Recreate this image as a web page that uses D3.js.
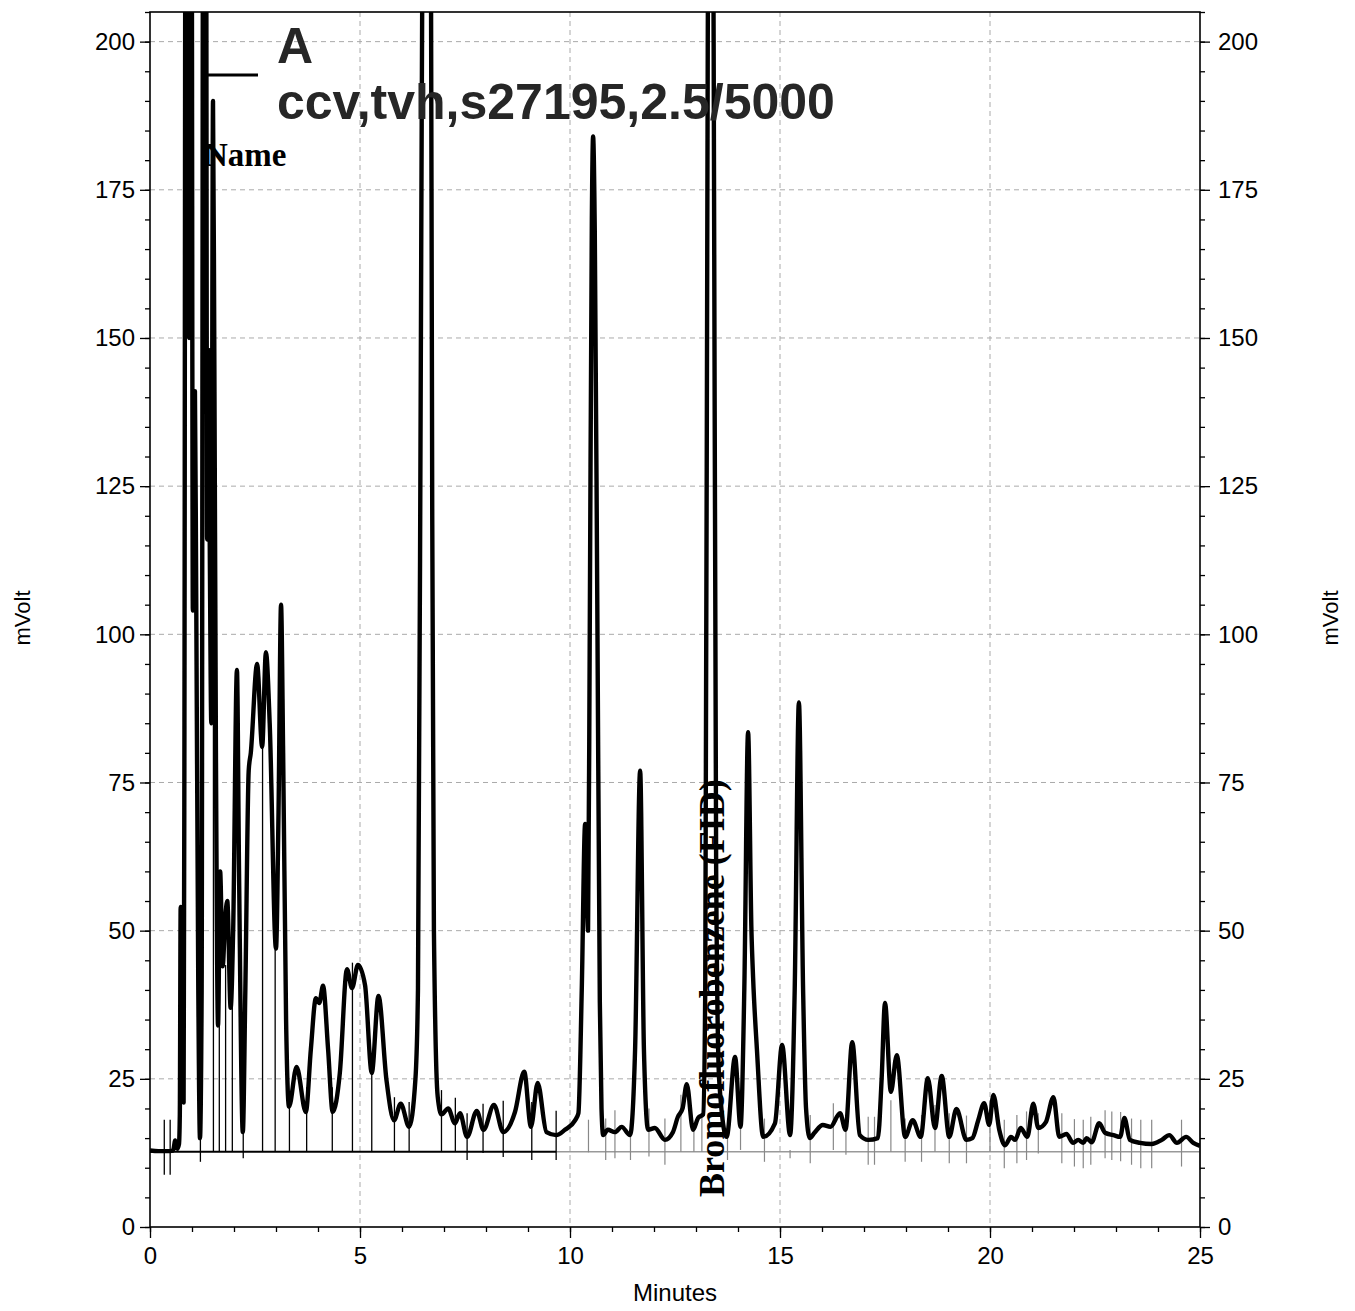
<!DOCTYPE html>
<html>
<head>
<meta charset="utf-8">
<script src="https://cdn.jsdelivr.net/npm/d3@7"></script>
<style>
  body { margin: 0; background: #fff; }
  svg text { font-family: "Liberation Sans", Arial, sans-serif; }
</style>
</head>
<body>
<div id="chart"></div>
<script>
// chromatogram: ccv,tvh,s27195 - signal (mVolt) vs time (minutes)

var times = [0.00, 0.20, 0.40, 0.55, 0.60, 0.65, 0.69, 0.71, 0.73, 0.75, 0.77, 0.80, 0.82, 0.85, 0.92, 0.93, 0.95, 0.99,
  1.02, 1.07, 1.10, 1.15, 1.19, 1.23, 1.27, 1.33, 1.36, 1.39, 1.42, 1.46, 1.50, 1.53, 1.57, 1.62, 1.67, 1.73, 1.79, 1.84,
  1.92, 1.98, 2.07, 2.12, 2.21, 2.27, 2.35, 2.40, 2.55, 2.67, 2.76, 2.85, 3.00, 3.06, 3.12, 3.17, 3.24, 3.31, 3.49, 3.71,
  3.83, 3.95, 4.03, 4.12, 4.24, 4.35, 4.52, 4.69, 4.81, 4.95, 5.12, 5.28, 5.44, 5.63, 5.81, 5.97, 6.17, 6.32, 6.38, 6.45,
  6.50, 6.60, 6.68, 6.72, 6.76, 6.85, 6.94, 7.10, 7.26, 7.38, 7.55, 7.78, 7.94, 8.19, 8.41, 8.69, 8.91, 9.07, 9.23, 9.44,
  9.67, 9.88, 10.12, 10.20, 10.28, 10.36, 10.43, 10.47, 10.52, 10.55, 10.59, 10.65, 10.71, 10.75, 10.79, 10.90, 11.07,
  11.23, 11.43, 11.55, 11.67, 11.76, 11.86, 12.02, 12.26, 12.45, 12.57, 12.68, 12.78, 12.93, 13.05, 13.17, 13.22, 13.28,
  13.35, 13.42, 13.48, 13.55, 13.73, 13.93, 14.06, 14.15, 14.24, 14.32, 14.36, 14.45, 14.60, 14.88, 15.05, 15.24, 15.35,
  15.45, 15.55, 15.62, 15.71, 15.82, 16.02, 16.20, 16.43, 16.56, 16.72, 16.90, 17.10, 17.33, 17.42, 17.50, 17.64, 17.78,
  17.98, 18.16, 18.35, 18.52, 18.69, 18.85, 19.03, 19.20, 19.44, 19.58, 19.72, 19.86, 19.98, 20.08, 20.22, 20.36, 20.50,
  20.60, 20.73, 20.89, 21.03, 21.15, 21.33, 21.51, 21.65, 21.82, 21.98, 22.10, 22.22, 22.30, 22.42, 22.60, 22.74, 22.94,
  23.10, 23.20, 23.33, 23.57, 23.85, 24.09, 24.27, 24.45, 24.67, 24.84, 25.00];

var mvolts = [12.9, 12.8, 12.8, 12.9, 14.6, 13.2, 14.0, 19.0, 54.0, 50, 22, 21, 84, 260, 260, 150, 260, 240,
  104, 141, 107, 40, 15, 40, 260, 260, 116, 148, 118, 85, 190, 150, 80, 34, 60, 44, 52, 55,
  37, 50, 94, 60, 16, 40, 77, 80, 95, 81, 97, 85, 47, 70, 105, 80, 35, 20.3, 27, 19.4,
  30, 38.6, 37.8, 40.7, 30, 19.4, 26, 43.5, 40.3, 44.2, 40.8, 26, 39, 24.8, 18, 20.8, 16.9, 25, 40, 150,
  240, 300, 240, 120, 50, 22, 19, 20, 17.5, 19.2, 15.2, 19.6, 16.4, 20.6, 16, 19.4, 26.2, 16.9, 24.3, 16,
  15.5, 16.4, 18, 19.2, 40, 68, 50, 100, 170, 184, 168, 105, 38, 20, 15.5, 16.4, 16,
  16.9, 15.5, 30, 77, 30, 16.4, 16.7, 14.7, 16, 18.6, 20, 24.1, 16.4, 18.4, 19, 40, 200,
  300, 200, 60, 25, 15.2, 28.7, 16.9, 40, 83.5, 50, 42, 30, 15.2, 17.5, 30.7, 15.5, 40,
  88.5, 40, 20, 15, 15.9, 17.2, 16.9, 19.2, 16.4, 31.2, 15.5, 14.7, 15, 25, 37.8, 22.8, 29,
  15.2, 18, 15.2, 25.1, 16.7, 25.5, 15.2, 19.9, 14.7, 15, 18, 20.9, 17.2, 22.3, 16.4, 13.8, 15.2,
  14.7, 16.7, 15.2, 20.8, 16.7, 17.7, 21.9, 15.2, 15.7, 14.2, 14.7, 14.2, 15, 14.3, 17.5, 15.9, 15.5,
  15.2, 18.4, 14.7, 14.2, 14, 14.7, 15.5, 14.2, 15.2, 14.2, 13.7];

// peak start/end markers (dark, integrated part)
var darkMarkTimes   = [0.34, 0.48, 1.20, 1.51, 1.65, 1.80, 1.96, 2.22, 2.68, 2.98, 3.32, 3.73, 4.34, 4.82, 5.28, 5.82, 6.17, 6.94, 7.27, 7.55, 7.93, 8.41, 9.09, 9.67];
var darkMarkTops    = [18.1, 18.1, 15.0, 150, 34.4, 44.2, 37.1, 15.9, 81, 46.8, 20.3, 23.6, 23.6, 44.6, 26, 21.9, 21.1, 23.1, 21.8, 19.2, 20.8, 21.3, 21.1, 19.6];
var darkMarkBottoms = [8.8, 8.8, 11.0, 12.8, 12.8, 12.8, 12.8, 11.6, 12.8, 12.8, 12.8, 12.8, 12.8, 12.8, 12.8, 12.8, 12.8, 12.8, 12.8, 11.3, 12.5, 11.8, 11.3, 11.3];

// peak markers after the baseline turns grey
var greyMarkTimes   = [10.44, 10.85, 11.07, 11.44, 11.88, 12.26, 12.64, 12.95, 13.14, 13.75, 14.06, 14.63, 15.24, 15.72, 16.27, 16.57, 17.10, 17.25, 17.64, 17.98, 18.37, 18.69, 19.03, 19.44, 20.00, 20.34, 20.64, 20.87, 21.15, 21.71, 22.01, 22.22, 22.40, 22.74, 22.90, 23.11, 23.37, 23.59, 23.85, 24.56, 25.00];
var greyMarkTops    = [18.1, 18.3, 19.7, 18.1, 20.0, 18.3, 22.3, 16.4, 18.9, 18.3, 18.6, 18.3, 13.0, 18.9, 20.9, 18.9, 18.6, 18.6, 21.4, 18.3, 18.9, 20.6, 19.2, 18.8, 21.4, 18.1, 18.9, 19.5, 19.2, 19.2, 18.2, 18.1, 18.6, 19.7, 19.5, 19.4, 18.3, 18.1, 18.1, 18.1, 21.4];
var greyMarkBottoms = [12.6, 11.3, 11.6, 11.3, 11.9, 10.5, 12.7, 12.7, 12.7, 11.3, 13.0, 11.0, 11.6, 10.75, 13.0, 12.2, 10.5, 10.5, 12.7, 11.0, 11.0, 12.7, 10.75, 10.75, 12.7, 9.9, 10.75, 11.3, 12.4, 10.75, 10.2, 9.9, 10.5, 11.6, 11.3, 11.1, 10.5, 9.9, 9.9, 10.2, 9.6];

var baselineLevel = 12.7;
var baselineSplit = 9.67;

var xTickValues = [0, 5, 10, 15, 20, 25];
var yTickValues = [0, 25, 50, 75, 100, 125, 150, 175, 200];

var peakName = "Bromofluorobenzene (FID)";
var titleLetter = "A";
var titleSample = "ccv,tvh,s27195,2.5/5000";

(function() {
  var W = 1355, H = 1311;
  var pLeft = 150, pRight = 1200, pTop = 12, pBottom = 1227;

  var svg = d3.select("#chart").append("svg")
    .attr("width", W)
    .attr("height", H);

  var x = d3.scaleLinear().domain([0, 25]).range([pLeft, pRight]);
  var y = d3.scaleLinear().domain([0, 205]).range([pBottom, pTop]);

  svg.append("clipPath").attr("id", "plotclip")
    .append("rect")
    .attr("x", pLeft).attr("y", pTop)
    .attr("width", pRight - pLeft).attr("height", pBottom - pTop);

  // grid
  svg.append("g").selectAll("line")
    .data(yTickValues.filter(function(d) { return d > 0; }))
    .enter().append("line")
    .attr("x1", pLeft).attr("x2", pRight)
    .attr("y1", function(d) { return y(d); })
    .attr("y2", function(d) { return y(d); })
    .attr("stroke", "#aaa")
    .attr("stroke-dasharray", "5,4");

  svg.append("g").selectAll("line")
    .data(xTickValues.filter(function(d) { return d > 0 && d < 25; }))
    .enter().append("line")
    .attr("y1", pTop).attr("y2", pBottom)
    .attr("x1", function(d) { return x(d); })
    .attr("x2", function(d) { return x(d); })
    .attr("stroke", "#aaa")
    .attr("stroke-dasharray", "5,4");

  // baseline
  svg.append("line")
    .attr("x1", x(baselineSplit)).attr("x2", x(25))
    .attr("y1", y(baselineLevel)).attr("y2", y(baselineLevel))
    .attr("stroke", "#999").attr("stroke-width", 1.5);
  svg.append("line")
    .attr("x1", x(0)).attr("x2", x(baselineSplit))
    .attr("y1", y(baselineLevel)).attr("y2", y(baselineLevel))
    .attr("stroke", "#000").attr("stroke-width", 1.8);

  // marker lines
  svg.append("g").selectAll("line")
    .data(greyMarkTimes)
    .enter().append("line")
    .attr("x1", function(d) { return x(d); })
    .attr("x2", function(d) { return x(d); })
    .attr("y1", function(d, i) { return y(greyMarkTops[i]); })
    .attr("y2", function(d, i) { return y(greyMarkBottoms[i]); })
    .attr("stroke", "#888").attr("stroke-width", 1.2);

  svg.append("g").attr("clip-path", "url(#plotclip)").selectAll("line")
    .data(darkMarkTimes)
    .enter().append("line")
    .attr("x1", function(d) { return x(d); })
    .attr("x2", function(d) { return x(d); })
    .attr("y1", function(d, i) { return y(darkMarkTops[i]); })
    .attr("y2", function(d, i) { return y(darkMarkBottoms[i]); })
    .attr("stroke", "#000").attr("stroke-width", 1.3);

  // signal
  var points = times.map(function(t, i) { return [t, mvolts[i]]; });
  var line = d3.line()
    .x(function(d) { return x(d[0]); })
    .y(function(d) { return y(d[1]); })
    .curve(d3.curveMonotoneX);

  svg.append("path")
    .datum(points)
    .attr("clip-path", "url(#plotclip)")
    .attr("d", line)
    .attr("fill", "none")
    .attr("stroke", "#000")
    .attr("stroke-width", 4.4)
    .attr("stroke-linejoin", "round");

  // axes
  var yLeftMinor = d3.axisLeft(y).tickValues(d3.range(0, 206, 5)).tickSize(5).tickFormat("");
  var yLeft = d3.axisLeft(y).tickValues(yTickValues).tickSize(10).tickPadding(5);
  var yRightMinor = d3.axisRight(y).tickValues(d3.range(0, 206, 5)).tickSize(5).tickFormat("");
  var yRight = d3.axisRight(y).tickValues(yTickValues).tickSize(10).tickPadding(8);
  var xMinor = d3.axisBottom(x).tickValues(d3.range(0, 26, 1)).tickSize(5).tickFormat("");
  var xMajor = d3.axisBottom(x).tickValues(xTickValues).tickSize(11).tickPadding(9);

  function styleAxis(g) {
    g.select(".domain").remove();
    g.selectAll("line").attr("stroke", "#000").attr("stroke-width", 1.3);
    g.selectAll("text").attr("font-size", 24).attr("fill", "#000")
      .style("font-family", "'Liberation Sans', Arial, sans-serif");
  }

  svg.append("g").attr("transform", "translate(" + pLeft + ",0)").call(yLeftMinor).call(styleAxis);
  svg.append("g").attr("transform", "translate(" + pLeft + ",0)").call(yLeft).call(styleAxis);
  svg.append("g").attr("transform", "translate(" + pRight + ",0)").call(yRightMinor).call(styleAxis);
  svg.append("g").attr("transform", "translate(" + pRight + ",0)").call(yRight).call(styleAxis);
  svg.append("g").attr("transform", "translate(0," + pBottom + ")").call(xMinor).call(styleAxis);
  svg.append("g").attr("transform", "translate(0," + pBottom + ")").call(xMajor).call(styleAxis);

  // frame
  svg.append("rect")
    .attr("x", pLeft).attr("y", pTop)
    .attr("width", pRight - pLeft).attr("height", pBottom - pTop)
    .attr("fill", "none").attr("stroke", "#000").attr("stroke-width", 1.6);

  // axis titles
  svg.append("text")
    .attr("transform", "translate(30,618) rotate(-90)")
    .attr("text-anchor", "middle")
    .attr("font-size", 22)
    .text("mVolt");
  svg.append("text")
    .attr("transform", "translate(1338,618) rotate(-90)")
    .attr("text-anchor", "middle")
    .attr("font-size", 22)
    .text("mVolt");
  svg.append("text")
    .attr("x", 675).attr("y", 1301)
    .attr("text-anchor", "middle")
    .attr("font-size", 24)
    .text("Minutes");

  // annotations
  svg.append("text")
    .attr("x", 277).attr("y", 63)
    .attr("font-size", 50).attr("font-weight", "bold")
    .attr("fill", "#262626")
    .text(titleLetter);
  svg.append("text")
    .attr("x", 277).attr("y", 119)
    .attr("font-size", 50).attr("font-weight", "bold")
    .attr("fill", "#262626")
    .text(titleSample);
  svg.append("line")
    .attr("x1", 202).attr("x2", 258)
    .attr("y1", 75).attr("y2", 75)
    .attr("stroke", "#000").attr("stroke-width", 3);
  svg.append("text")
    .attr("x", 204).attr("y", 166)
    .attr("font-size", 33).attr("font-weight", "bold")
    .style("font-family", "'Liberation Serif', 'Times New Roman', serif")
    .text("Name");
  svg.append("text")
    .attr("transform", "translate(724,1197) rotate(-90)")
    .attr("font-size", 36).attr("font-weight", "bold")
    .style("font-family", "'Liberation Serif', 'Times New Roman', serif")
    .text(peakName);
})();
</script>
</body>
</html>
